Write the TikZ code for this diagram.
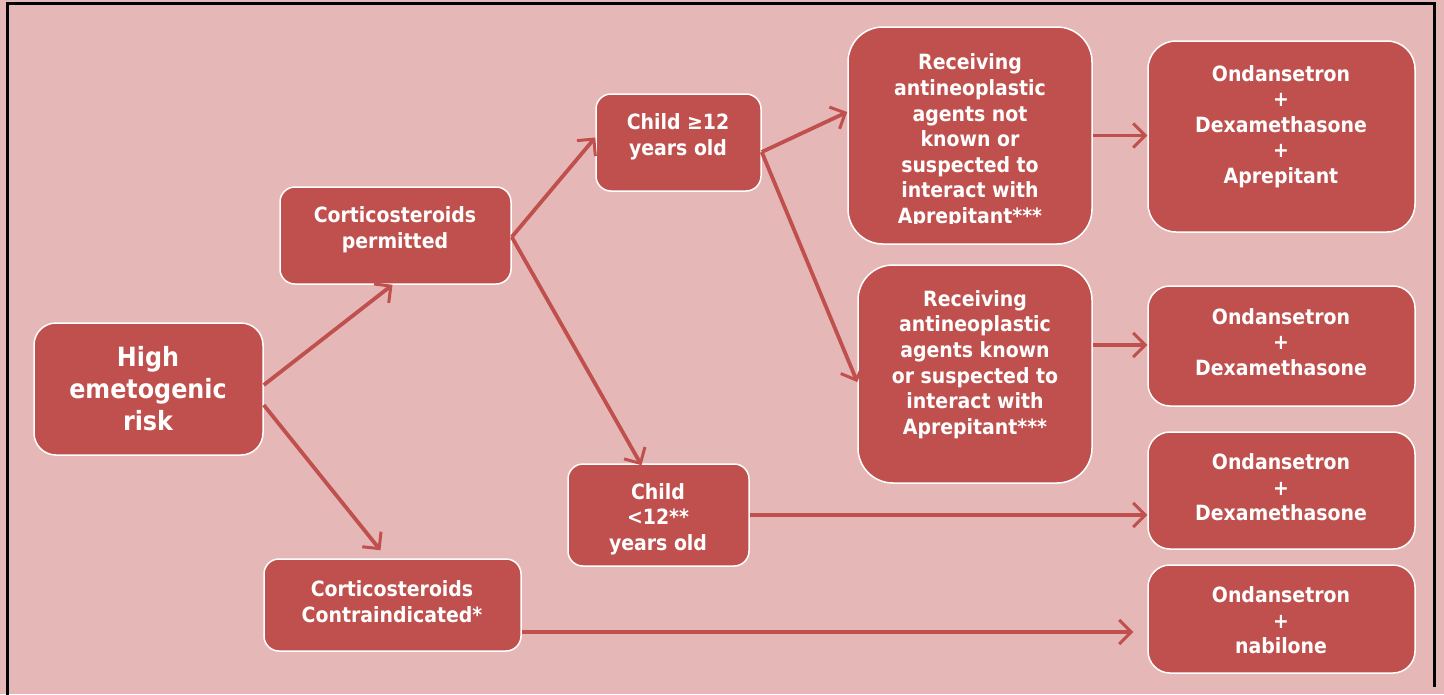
\documentclass[tikz,border=0pt]{standalone}
\usepackage{fontspec}
\setmainfont{DejaVu Sans Condensed}
\usetikzlibrary{arrows.meta}
\definecolor{bg}{HTML}{E5B8B7}
\definecolor{boxc}{HTML}{C0504D}
\begin{document}
\begin{tikzpicture}[x=1pt,y=-1pt,
  boxst/.style={draw=white, line width=1.5pt, fill=boxc, inner sep=0pt},
  txt/.style={text=white, font=\bfseries\fontsize{21}{25.6}\selectfont, align=center, inner sep=0pt},
  bigtxt/.style={text=white, font=\bfseries\fontsize{26.5}{32}\selectfont, align=center, inner sep=0pt},
  arr/.style={draw=boxc, line width=3.8pt, -{Straight Barb[length=12pt,width=24pt,line width=3pt]}}]
\fill[bg] (0,0) rectangle (1444,694);
\path[use as bounding box] (0,0) rectangle (1444,694);
\draw[line width=3pt] (7,700) -- (7,3) -- (1434,3) -- (1434,687);

% boxes
\node[boxst, rounded corners=22pt, minimum width=229pt, minimum height=132pt] (high) at (148.5,389) {};
\node[boxst, rounded corners=15pt, minimum width=231pt, minimum height=97pt] (perm) at (395.5,235.5) {};
\node[boxst, rounded corners=15pt, minimum width=165pt, minimum height=97pt] (c12) at (678.5,142.5) {};
\node[boxst, rounded corners=35pt, minimum width=244pt, minimum height=217pt] (rnk) at (970,135.5) {};
\node[boxst, rounded corners=35pt, minimum width=234pt, minimum height=218pt] (rk) at (975,374) {};
\node[boxst, rounded corners=15pt, minimum width=181pt, minimum height=102pt] (cl12) at (658.5,515) {};
\node[boxst, rounded corners=15pt, minimum width=257pt, minimum height=92pt] (contra) at (392.5,605) {};
\node[boxst, rounded corners=28pt, minimum width=267pt, minimum height=191pt] (o1) at (1281.5,136.5) {};
\node[boxst, rounded corners=22pt, minimum width=267pt, minimum height=120pt] (o2) at (1281.5,346) {};
\node[boxst, rounded corners=22pt, minimum width=267pt, minimum height=117pt] (o3) at (1281.5,490.5) {};
\node[boxst, rounded corners=22pt, minimum width=267pt, minimum height=108pt] (o4) at (1281.5,619) {};

% texts
\node[bigtxt] (thigh) at (148,389) {High\\emetogenic\\risk};
\node[txt] (tperm) at (395,229.5) {Corticosteroids\\permitted};
\node[txt] (tc12) at (678,136.5) {Child ≥12\\years old};
\begin{scope}
\clip (848,27) rectangle (1092,223);
\node[txt] (trnk) at (970,141) {Receiving\\antineoplastic\\agents not\\known or\\suspected to\\interact with\\Aprepitant***};
\end{scope}
\node[txt] (trk) at (975,364.5) {Receiving\\antineoplastic\\agents known\\or suspected to\\interact with\\Aprepitant***};
\node[txt] (tcl12) at (658,519) {Child\\<12**\\years old};
\node[txt] (tcontra) at (392,601.5) {Corticosteroids\\Contraindicated*};
\node[txt] (to1) at (1281,126.5) {Ondansetron\\+\\Dexamethasone\\+\\Aprepitant};
\node[txt] (to2) at (1281,342) {Ondansetron\\+\\Dexamethasone};
\node[txt] (to3) at (1281,487.5) {Ondansetron\\+\\Dexamethasone};
\node[txt] (to4) at (1281,620.5) {Ondansetron\\+\\nabilone};

% arrows
\draw[arr] ([yshift=4pt]high.east) -- ([xshift=-3pt]perm.south);
\draw[arr] ([yshift=-16pt]high.east) -- ([xshift=-12pt,yshift=8pt]contra.north);
\draw[arr] ([yshift=-1.5pt]perm.east) -- ([yshift=5pt]c12.west);
\draw[arr] ([yshift=-1.5pt]perm.east) -- ([xshift=-17pt,yshift=-2pt]cl12.north);
\draw[arr] ([yshift=-9.5pt]c12.east) -- ([yshift=23.5pt]rnk.west);
\draw[arr] ([yshift=-9.5pt]c12.east) -- ([yshift=-8pt]rk.west);
\draw[arr] (rnk.east) -- (rnk.east -| o1.west);
\draw[arr] ([yshift=29pt]rk.east) coordinate (k0) -- (k0 -| o2.west);
\draw[arr] (cl12.east) -- (cl12.east -| o3.west);
\draw[arr] ([yshift=-27pt]contra.east) coordinate (c0) -- ([xshift=-14pt]o4.west |- c0);
\end{tikzpicture}
\end{document}
